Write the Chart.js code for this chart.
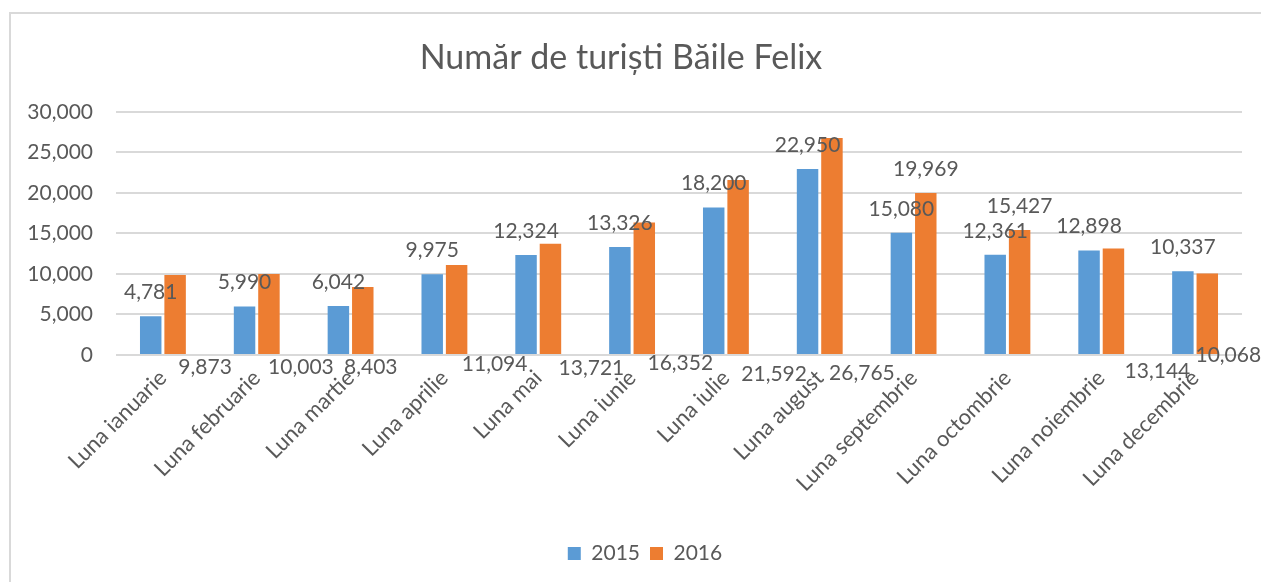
<!DOCTYPE html>
<html>
<head>
<meta charset="utf-8">
<script src="https://cdn.jsdelivr.net/npm/chart.js@4.4.0/dist/chart.umd.min.js"></script>
<style>
    body {margin: 0; background: white;}
    #wrap {position: relative; width: 1261px; height: 582px;}
    #frame {position: absolute; left: 9px; top: 12px; right: 0; bottom: 0;
        border-left: 2px solid #d9d9d9; border-top: 2px solid #d9d9d9;}
    canvas {position: absolute; left: 0; top: 0;}
</style>
</head>
<body>
<div id="wrap">
    <div id="frame"></div>
    <canvas id="bar-chart" width="1261" height="582"></canvas>
</div>
<script>
const months = ['Luna ianuarie', 'Luna februarie', 'Luna martie', 'Luna aprilie', 'Luna mai', 'Luna iunie',
    'Luna iulie', 'Luna august', 'Luna septembrie', 'Luna octombrie', 'Luna noiembrie', 'Luna decembrie'];
const tourists2015 = [4781, 5990, 6042, 9975, 12324, 13326, 18200, 22950, 15080, 12361, 12898, 10337];
const tourists2016 = [9873, 10003, 8403, 11094, 13721, 16352, 21592, 26765, 19969, 15427, 13144, 10068];

// the 2016 labels were dragged around in the original; [dx from bar, dy from zero line], null = above bar
const nudge2016 = [[30, 12], [32, 12], [8, 12], [38, 9], [41, 13], [36, 8], [36, 19], [30, 18],
    null, null, [44, 16], [21, 0]];

const textColor = '#595959';
const fontFamily = 'Lato, "Open Sans", sans-serif';

const valueLabels = {
    id: 'valueLabels',
    afterLayout(chart) {
        // legend sits a bit right of the canvas centre in the original
        chart.legend.left += 24;
        chart.legend.right += 24;
    },
    afterDatasetsDraw(chart) {
        const ctx = chart.ctx;
        const zeroY = chart.scales.y.getPixelForValue(0);
        ctx.save();
        ctx.font = '21px ' + fontFamily;
        ctx.fillStyle = textColor;
        ctx.textAlign = 'center';
        ctx.textBaseline = 'middle';
        chart.data.datasets.forEach((ds, di) => {
            chart.getDatasetMeta(di).data.forEach((bar, i) => {
                const txt = ds.data[i].toLocaleString('en-US');
                const n = di === 1 ? nudge2016[i] : null;
                if (n) {
                    ctx.fillText(txt, bar.x + n[0], zeroY + n[1]);
                } else {
                    ctx.fillText(txt, bar.x, bar.y - 24);
                }
            });
        });
        ctx.restore();
    }
};

const bar_chart_ctx = document.getElementById('bar-chart').getContext('2d');
const bar_chart = new Chart(bar_chart_ctx, {
    type: 'bar',
    data: {
        labels: months,
        datasets: [{
            label: '2015',
            data: tourists2015,
            backgroundColor: '#5B9BD5',
            barPercentage: 0.88,
            categoryPercentage: 0.52
        }, {
            label: '2016',
            data: tourists2016,
            backgroundColor: '#ED7D31',
            barPercentage: 0.88,
            categoryPercentage: 0.52
        }]
    },
    options: {
        responsive: false,
        animation: false,
        layout: {padding: {left: 0, right: 19, top: 0, bottom: 8}},
        plugins: {
            title: {
                display: true,
                text: 'Număr de turiști Băile Felix',
                color: textColor,
                font: {family: fontFamily, size: 34, weight: 'normal'},
                padding: {top: 38, bottom: 33}
            },
            legend: {
                position: 'bottom',
                labels: {
                    color: textColor,
                    font: {family: fontFamily, size: 21},
                    boxWidth: 13,
                    boxHeight: 13,
                    padding: 10
                }
            },
            tooltip: {enabled: false}
        },
        scales: {
            x: {
                grid: {display: false},
                border: {display: false},
                ticks: {
                    color: textColor,
                    font: {family: fontFamily, size: 22},
                    minRotation: 45,
                    maxRotation: 45,
                    padding: 2
                },
                afterFit: s => { s.height = 178; }
            },
            y: {
                min: 0,
                max: 30000,
                grid: {color: '#d9d9d9', lineWidth: 2, drawTicks: false},
                border: {display: false},
                ticks: {
                    stepSize: 5000,
                    color: textColor,
                    font: {family: fontFamily, size: 21},
                    padding: 23,
                    callback: v => v.toLocaleString('en-US')
                },
                afterFit: s => { s.width = 116; }
            }
        }
    },
    plugins: [valueLabels]
});
</script>
</body>
</html>
